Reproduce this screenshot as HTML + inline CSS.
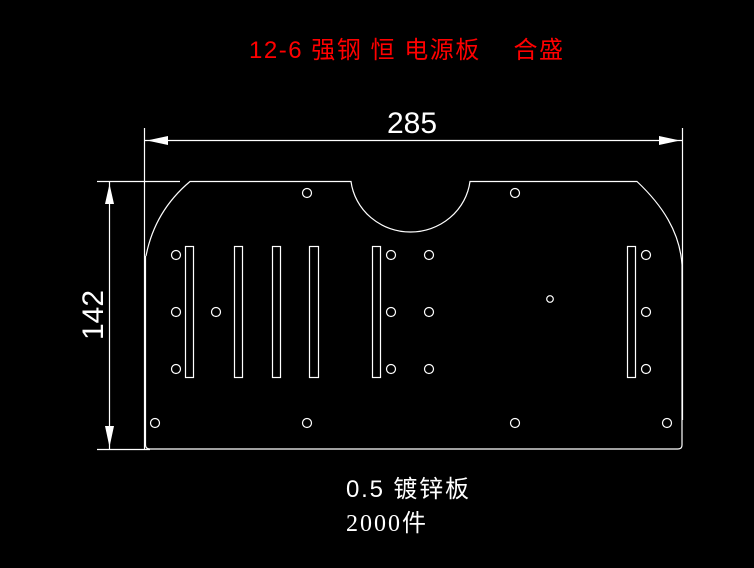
<!DOCTYPE html>
<html><head><meta charset="utf-8"><style>
html,body{margin:0;padding:0;background:#000;width:754px;height:568px;overflow:hidden}
svg{display:block}
</style></head><body>
<svg width="754" height="568" viewBox="0 0 754 568" xmlns="http://www.w3.org/2000/svg">
<g fill="none" stroke="#fff" stroke-width="1.2">
<line x1="144.5" y1="128" x2="144.5" y2="449"/>
<line x1="682.5" y1="128" x2="682.5" y2="420"/>
<line x1="97" y1="181.5" x2="180" y2="181.5"/>
<line x1="97" y1="449.5" x2="150" y2="449.5"/>
<line x1="145" y1="140.5" x2="682" y2="140.5"/>
<line x1="109.5" y1="182" x2="109.5" y2="449"/>
<path d="M146,256 C152,225 168,200 190,181.5 L351,181.5 A60,58 0 0 0 470,181.5 L637,181.5 C662,205 680,232 682,265 L682,445 Q682,449 678,449 L150,449 Q145.5,449 145.5,445 L145.5,256"/>
<rect x="185.5" y="246.5" width="8" height="131"/>
<rect x="234.5" y="246.5" width="8" height="131"/>
<rect x="272.5" y="246.5" width="8" height="131"/>
<rect x="309.5" y="246.5" width="9" height="131"/>
<rect x="372.5" y="246.5" width="8" height="131"/>
<rect x="627.5" y="246.5" width="8" height="131"/>
<g>
<circle cx="176" cy="255" r="4.5"/><circle cx="176" cy="312" r="4.5"/><circle cx="176" cy="369" r="4.5"/>
<circle cx="216" cy="312" r="4.5"/>
<circle cx="391" cy="255" r="4.5"/><circle cx="391" cy="312" r="4.5"/><circle cx="391" cy="369" r="4.5"/>
<circle cx="429" cy="255" r="4.5"/><circle cx="429" cy="312" r="4.5"/><circle cx="429" cy="369" r="4.5"/>
<circle cx="646" cy="255" r="4.5"/><circle cx="646" cy="312" r="4.5"/><circle cx="646" cy="369" r="4.5"/>
<circle cx="307" cy="193" r="4.5"/><circle cx="515" cy="193" r="4.5"/>
<circle cx="155" cy="423" r="4.5"/><circle cx="307" cy="423" r="4.5"/><circle cx="515" cy="423" r="4.5"/><circle cx="667" cy="423" r="4.5"/>
<circle cx="550" cy="299" r="3.3"/>
</g>
</g>
<g fill="#fff">
<polygon points="147,140.5 168,136 168,145"/>
<polygon points="680,140.5 659,136 659,145"/>
<polygon points="109.5,184 105,204 114,204"/>
<polygon points="109.5,447 105,426 114,426"/>
</g>
<text x="249" y="58" fill="#f00" font-family="Liberation Sans, Noto Sans CJK SC, sans-serif" font-size="24" textLength="314" xml:space="preserve">12-6 强钢 恒 电源板    合盛</text>
<text x="412" y="133" fill="#fff" font-family="Liberation Sans, sans-serif" font-size="30" text-anchor="middle">285</text>
<text transform="translate(103,315) rotate(-90)" fill="#fff" font-family="Liberation Sans, sans-serif" font-size="30" text-anchor="middle">142</text>
<text x="346" y="497" fill="#fff" font-family="Liberation Sans, Noto Sans CJK SC, sans-serif" font-size="24" textLength="123">0.5 镀锌板</text>
<text x="346" y="531" fill="#fff" font-family="Liberation Serif, Noto Sans CJK SC, serif" font-size="24" textLength="80">2000件</text>
</svg>
</body></html>
